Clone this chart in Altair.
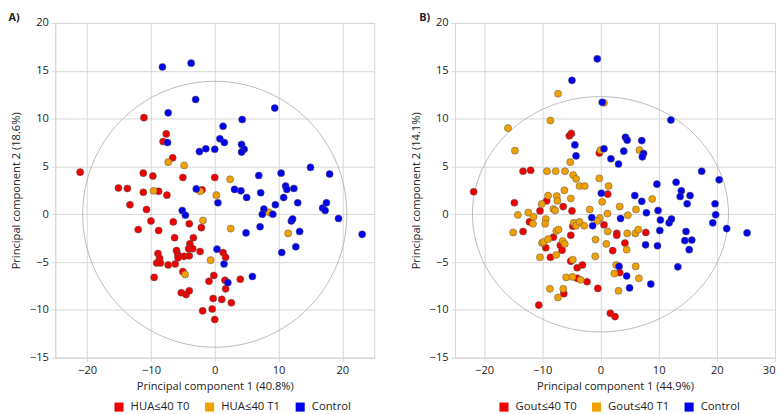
import altair as alt
import numpy as np
import pandas as pd

# ---------------- data ----------------
a_groups = ["HUA≤40 T0", "HUA≤40 T1", "Control"]
b_groups = ["Gout≤40 T0", "Gout≤40 T1", "Control"]
colors = ["#ee0000", "#f0a000", "#0000ee"]

a_t0 = [(-21.1, 4.4), (-11.1, 10.1), (-7.6, 8.4), (-8.1, 7.6), (-6.6, 5.9), (-11.2, 4.3),
        (-9.7, 4.0), (-5.0, 3.85), (0.0, 3.85), (-15.1, 2.75), (-13.7, 2.7), (-11.2, 2.3),
        (-8.8, 2.4), (-7.5, 2.0), (-2.0, 2.55), (-13.3, 1.0), (-10.7, 0.5), (-10.0, -0.7),
        (-6.5, -0.8), (-4.0, -1.0), (-2.1, -1.4), (-12.0, -1.6), (-8.8, -1.7), (-6.3, -2.45),
        (-3.35, -2.45), (-3.9, -3.1), (-4.1, -3.6), (-3.45, -3.6), (-2.3, -3.9), (-6.0, -3.8),
        (-5.8, -4.2), (-5.75, -4.55), (-4.8, -4.4), (-4.0, -4.35), (-8.9, -4.1), (-8.65, -4.6),
        (-9.1, -5.1), (-8.5, -5.1), (-7.3, -5.3), (-6.2, -5.2), (-5.0, -6.0), (-9.5, -6.6),
        (-0.15, -6.4), (-0.9, -7.0), (1.6, -6.9), (1.7, -7.8), (4.0, -6.8), (-5.25, -8.2),
        (-4.5, -8.4), (-4.0, -8.0), (-0.25, -8.8), (1.1, -8.9), (2.6, -9.25), (-1.9, -10.1),
        (-0.4, -9.9), (0.0, -11.0), (1.3, -4.0), (1.7, -4.5)]
a_t1 = [(-7.3, 5.45), (-4.8, 5.1), (2.4, 3.65), (-9.6, 2.45), (-2.3, 2.4), (0.25, 2.0),
        (-1.85, -0.65), (8.5, 0.2), (11.5, -2.0), (2.5, -1.5), (-0.65, -4.8), (-4.65, -6.3)]
a_ctrl = [(-8.2, 15.4), (-3.7, 15.8), (-3.0, 12.0), (-7.3, 10.6), (9.4, 11.1), (4.3, 9.9),
          (1.3, 9.2), (-7.4, 7.5), (0.8, 7.9), (1.5, 7.5), (-1.4, 6.85), (-2.4, 6.55),
          (0.0, 6.8), (4.2, 7.3), (4.6, 6.8), (4.2, 6.5), (15.0, 4.9), (18.0, 4.2),
          (10.4, 4.3), (6.9, 4.05), (-2.9, 2.65), (3.1, 2.6), (4.1, 2.45), (7.2, 2.25),
          (5.0, 1.75), (11.1, 2.95), (11.3, 2.6), (12.4, 2.7), (10.8, 1.75), (13.0, 1.2),
          (9.5, 1.0), (7.7, 0.55), (7.45, 0.0), (9.1, 0.0), (16.9, 0.65), (17.5, 1.2),
          (17.3, 0.4), (19.4, -0.45), (23.1, -2.1), (12.0, -0.7), (12.2, -0.5), (13.3, -1.8),
          (7.1, -1.3), (4.9, -1.95), (10.5, -4.0), (12.7, -3.4), (-5.1, 0.4), (-4.6, -0.1),
          (0.5, 1.2), (0.35, -3.65), (1.45, -5.2), (2.05, -7.15), (5.9, -6.5)]

b_t0 = [(-21.8, 2.35), (-14.8, 1.2), (-9.25, 1.4), (-6.4, 0.8), (-4.9, 0.35), (-10.4, 0.35),
        (-12.2, -0.8), (-13.3, -1.8), (1.25, 2.1), (0.6, -1.1), (-5.1, -2.2), (-8.1, -2.4),
        (-9.4, -3.5), (-6.9, -3.25), (-6.6, -3.75), (-8.6, -4.5), (-5.1, -4.9), (-4.0, -5.6),
        (-3.1, -5.3), (-4.0, -6.7), (-2.3, -7.05), (-6.3, -8.3), (-0.45, -7.75), (-10.6, -9.5),
        (1.7, -10.35), (2.5, -10.7), (2.8, -2.0), (2.8, -2.2), (2.1, -3.8), (4.2, -3.0),
        (3.3, -6.1), (7.8, -1.9), (-4.75, -1.25), (-13.3, 4.5), (-12.0, 4.6), (-5.35, 8.2),
        (-5.0, 8.45), (-0.2, 6.4)]
b_t1 = [(0.6, 11.65), (-7.3, 12.6), (-8.6, 9.8), (-15.9, 9.0), (-14.7, 6.65), (-5.2, 5.45),
        (0.0, 6.7), (6.7, 6.7), (-9.2, 4.5), (-7.7, 4.5), (-6.1, 4.5), (-4.7, 4.1),
        (-4.2, 3.7), (-3.6, 2.95), (-2.7, 2.95), (-0.2, 3.75), (1.4, 2.95), (-6.2, 2.5),
        (-9.0, 1.95), (-7.5, 1.9), (-7.4, 1.4), (-5.1, 1.65), (0.3, 1.3), (8.9, 1.6),
        (-14.2, -0.07), (-15.0, -1.9), (-12.4, 0.17), (-11.5, -0.27), (-11.6, -1.0), (-10.1, 1.07),
        (-8.1, 0.55), (-7.8, 0.4), (-9.4, -0.5), (-9.5, -1.0), (-4.6, -0.9), (-4.2, -1.2),
        (-3.6, -0.8), (-2.8, -1.2), (-7.6, -1.75), (-7.2, -1.6), (-10.05, -3.0), (-9.8, -2.9),
        (-9.0, -2.6), (-6.5, -2.8), (-6.15, -3.1), (-7.6, -4.25), (-10.4, -4.5), (-4.75, -4.75),
        (-5.9, -6.6), (-4.8, -6.55), (-3.4, -6.85), (-8.7, -7.8), (-6.4, -7.8), (-7.3, -8.7),
        (3.3, 0.8), (4.7, -0.1), (6.1, 0.5), (-1.85, 0.5), (-0.1, -0.4), (-0.55, -0.7),
        (1.2, 0.07), (1.25, -1.8), (1.0, -3.1), (4.6, -2.0), (6.0, -2.0), (6.5, -1.6),
        (4.5, -3.7), (-0.85, -2.65), (-0.9, -4.4), (2.7, -5.3), (2.4, -6.2), (6.05, -5.45),
        (6.6, -6.7), (3.1, -8.0)]
b_ctrl = [(-0.55, 16.25), (-4.9, 14.0), (0.3, 11.7), (12.1, 9.85), (-4.4, 7.25), (-4.2, 6.1),
          (4.3, 8.05), (4.6, 7.75), (7.1, 7.7), (7.4, 6.35), (7.2, 6.0), (0.6, 6.85),
          (1.8, 5.8), (4.0, 6.6), (3.1, 5.25), (17.4, 4.5), (20.4, 3.6), (9.7, 3.15),
          (13.0, 3.35), (13.9, 2.45), (13.7, 1.85), (15.4, 1.95), (14.9, 1.1), (0.15, 2.2),
          (5.9, 1.95), (7.1, 1.35), (7.9, 0.15), (9.9, 0.4), (10.3, -0.6), (11.8, -0.9),
          (12.2, -0.5), (10.2, -1.7), (14.7, -1.8), (14.5, -2.75), (15.7, -2.7), (15.25, -3.7),
          (13.3, -5.5), (19.7, 1.1), (19.8, -0.05), (19.3, -0.9), (21.7, -1.5), (25.2, -1.95),
          (-1.5, -0.35), (-1.35, -1.2), (3.45, -0.45), (7.75, -3.2), (9.8, -3.3), (3.2, -5.45),
          (4.5, -6.45), (5.0, -7.7), (8.65, -7.3)]

# Hotelling ellipse semi-axes (PC1, PC2)
a_ellipse = (20.7, 13.9)
b_ellipse = (22.0, 12.3)

a_xticks = [-20, -10, 0, 10, 20]
b_xticks = [-20, -10, 0, 10, 20, 30]
yticks = [-15, -10, -5, 0, 5, 10, 15, 20]

FONT = "Open Sans"
GRID = "#d6d6d6"
TEXT = "#222222"
PLOT_H = 340


def panel(label, dx, groups, sets, xdom, xticks, xtitle, ytitle, ell, width, legend_x):
    rows = []
    for g, pts in zip(groups, sets):
        for px, py in pts:
            rows.append({"pc1": px, "pc2": py, "group": g})
    df = pd.DataFrame(rows)
    t = np.linspace(0, 2 * np.pi, 241)
    edf = pd.DataFrame({"pc1": ell[0] * np.cos(t), "pc2": ell[1] * np.sin(t),
                        "i": np.arange(len(t))})
    xs = alt.Scale(domain=xdom, nice=False, zero=False)
    ys = alt.Scale(domain=[-15, 20], nice=False, zero=False)
    xax = alt.Axis(values=xticks, title=xtitle, titlePadding=5, labelPadding=3)
    yax = alt.Axis(values=yticks, title=ytitle, titlePadding=8, labelPadding=3)
    ellipse = alt.Chart(edf).mark_line(color="#a9a9a9", strokeWidth=0.8).encode(
        x=alt.X("pc1:Q", scale=xs, axis=xax),
        y=alt.Y("pc2:Q", scale=ys, axis=yax),
        order="i:Q",
    )
    points = alt.Chart(df).mark_point(
        filled=True, shape="circle", size=52, opacity=1, stroke="#5a5a5a", strokeWidth=0.5
    ).encode(
        x=alt.X("pc1:Q", scale=xs),
        y=alt.Y("pc2:Q", scale=ys),
        color=alt.Color(
            "group:N",
            scale=alt.Scale(domain=groups, range=colors),
            legend=alt.Legend(
                title=None, orient="none", direction="horizontal",
                legendX=legend_x, legendY=PLOT_H + 44,
                symbolType="square", symbolSize=85, symbolStrokeWidth=0,
                labelFont=FONT, labelFontSize=11.5, labelColor=TEXT,
                labelOffset=6, columnPadding=14,
            ),
        ),
    )
    return alt.layer(ellipse, points).properties(
        width=width, height=PLOT_H,
        title=alt.TitleParams(text=label, anchor="start", font=FONT, fontSize=11,
                              fontWeight="bold", color=TEXT, dx=dx, offset=-6),
    )


left = panel("A)", -2, a_groups, [a_t0, a_t1, a_ctrl], [-25, 25], a_xticks,
             "Principal component 1 (40.8%)", "Principal component 2 (18.6%)",
             a_ellipse, 324, 59)
right = panel("B)", 9, b_groups, [b_t0, b_t1, b_ctrl], [-25, 30], b_xticks,
              "Principal component 1 (44.9%)", "Principal component 2 (14.1%)",
              b_ellipse, 325, 44)

chart = alt.hconcat(left, right, spacing=35).resolve_scale(
    color="independent"
).resolve_legend(color="independent").properties(padding=0).configure_view(
    stroke=GRID, strokeWidth=1
).configure_axis(
    gridColor=GRID, domainColor=GRID, tickColor=GRID, tickSize=4,
    labelFont=FONT, titleFont=FONT, labelFontSize=11.3, titleFontSize=11.3,
    labelColor=TEXT, titleColor=TEXT, titleFontWeight="normal",
)

chart.save("out.html", embed_options={"renderer": "svg", "actions": False})
